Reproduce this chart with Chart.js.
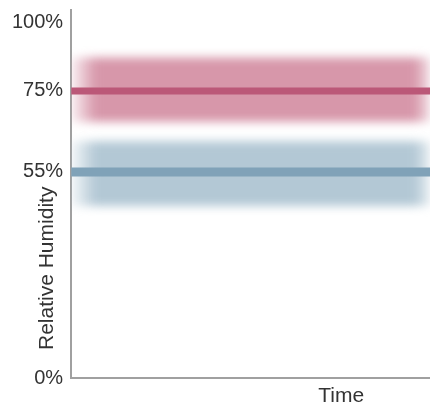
<!DOCTYPE html>
<html>
<head>
<meta charset="utf-8">
<script src="https://cdn.jsdelivr.net/npm/chart.js@4.4.1/dist/chart.umd.min.js"></script>
<style>
    html, body { margin: 0; padding: 0; background: #fff; }
    #wrap { width: 430px; height: 404px; position: relative; }
</style>
</head>
<body>
<div id="wrap"><canvas id="humidityChart"></canvas></div>
<script>
// chart data
const periodLabels = ['Time'];
const timeSpan = [0, 1];
const upperLevel = [75, 75];
const upperRange = [67.5, 87];
const lowerLevel = [55, 55];
const lowerRange = [46, 62.5];
const yTickValues = [0, 55, 75, 100];

// the y axis in the picture is not evenly spaced, so map values piecewise
const STOP_VALUES = [0, 55, 75, 100, 104];
const STOP_FRACTIONS = [0, 0.56, 0.78, 0.967, 1];

function interp(v, from, to) {
    if (v <= from[0]) return to[0];
    for (let i = 1; i < from.length; i++) {
        if (v <= from[i]) {
            const t = (v - from[i - 1]) / (from[i] - from[i - 1]);
            return to[i - 1] + t * (to[i] - to[i - 1]);
        }
    }
    return to[to.length - 1];
}

class HumidityScale extends Chart.LinearScale {
    getPixelForValue(value) {
        if (value === null || value === undefined) return NaN;
        return this.getPixelForDecimal(interp(value, STOP_VALUES, STOP_FRACTIONS));
    }
    getValueForPixel(pixel) {
        return interp(this.getDecimalForPixel(pixel), STOP_FRACTIONS, STOP_VALUES);
    }
}
HumidityScale.id = 'humidity';
HumidityScale.defaults = Chart.LinearScale.defaults;
Chart.register(HumidityScale);

const FONT = '"Liberation Sans", Arial, sans-serif';
const TEXT_COLOR = '#333333';
const AXIS_COLOR = '#a0a0a0';

// horizontal fade for the bands (rgb triplet, fades at both ends)
function bandFill(rgb) {
    return function(context) {
        const area = context.chart.chartArea;
        const solid = 'rgb(' + rgb + ')';
        if (!area) return solid;
        const g = context.chart.ctx.createLinearGradient(area.left, 0, area.right, 0);
        g.addColorStop(0, 'rgba(' + rgb + ',0.15)');
        g.addColorStop(0.07, solid);
        g.addColorStop(0.955, solid);
        g.addColorStop(1, 'rgba(' + rgb + ',0.3)');
        return g;
    };
}

// blur the band datasets only
const bandBlur = {
    id: 'bandBlur',
    beforeDatasetDraw(chart, args) {
        if (chart.data.datasets[args.index].blur) {
            chart.ctx.save();
            chart.ctx.filter = 'blur(5px)';
        }
    },
    afterDatasetDraw(chart, args) {
        if (chart.data.datasets[args.index].blur) {
            chart.ctx.restore();
        }
    }
};

// axis titles sit off-centre in the picture, so draw them by hand
const axisTitles = {
    id: 'axisTitles',
    afterDraw(chart) {
        const { ctx, chartArea } = chart;
        ctx.save();
        ctx.fillStyle = TEXT_COLOR;
        ctx.font = '21px ' + FONT;
        ctx.textBaseline = 'alphabetic';
        ctx.textAlign = 'left';
        ctx.translate(chartArea.left - 18, chartArea.bottom - 28);
        ctx.rotate(-Math.PI / 2);
        ctx.fillText('Relative Humidity', 0, 0);
        ctx.restore();

        ctx.save();
        ctx.fillStyle = TEXT_COLOR;
        ctx.font = '21px ' + FONT;
        ctx.textBaseline = 'alphabetic';
        ctx.textAlign = 'center';
        ctx.fillText('Time', chartArea.left + 270, chartArea.bottom + 24);
        ctx.restore();
    }
};

const ctx = document.getElementById('humidityChart').getContext('2d');
new Chart(ctx, {
    type: 'bar',
    data: {
        labels: periodLabels,
        datasets: [{
            type: 'line',
            xAxisID: 'x2',
            data: timeSpan.map((x, i) => ({ x: x, y: upperLevel[i] })),
            borderColor: '#bb5878',
            borderWidth: 7,
            pointRadius: 0,
            fill: false
        }, {
            type: 'line',
            xAxisID: 'x2',
            data: timeSpan.map((x, i) => ({ x: x, y: lowerLevel[i] })),
            borderColor: '#80a2b8',
            borderWidth: 9,
            pointRadius: 0,
            fill: false
        }, {
            type: 'bar',
            xAxisID: 'x',
            data: [upperRange],
            backgroundColor: bandFill('215,151,170'),
            borderWidth: 0,
            barPercentage: 1,
            categoryPercentage: 1,
            grouped: false,
            blur: true
        }, {
            type: 'bar',
            xAxisID: 'x',
            data: [lowerRange],
            backgroundColor: bandFill('179,200,213'),
            borderWidth: 0,
            barPercentage: 1,
            categoryPercentage: 1,
            grouped: false,
            blur: true
        }]
    },
    options: {
        responsive: true,
        maintainAspectRatio: false,
        animation: false,
        layout: {
            padding: { left: 4, top: 10, right: 0, bottom: 26 }
        },
        plugins: {
            legend: { display: false },
            tooltip: { enabled: false }
        },
        scales: {
            x: {
                type: 'category',
                offset: true,
                grid: { display: false, drawTicks: false },
                ticks: { display: false },
                border: { display: true, color: AXIS_COLOR, width: 2 }
            },
            x2: {
                type: 'linear',
                min: 0,
                max: 1,
                offset: false,
                display: false
            },
            y: {
                type: 'humidity',
                min: 0,
                max: 104,
                afterBuildTicks: function(scale) {
                    scale.ticks = yTickValues.map(v => ({ value: v }));
                },
                afterFit: function(scale) {
                    scale.paddingTop = 0;
                    scale.paddingBottom = 0;
                },
                grid: { display: false, drawTicks: false },
                border: { display: true, color: AXIS_COLOR, width: 2 },
                ticks: {
                    padding: 8,
                    color: TEXT_COLOR,
                    font: { family: FONT, size: 20 },
                    callback: function(value) {
                        return value + '%';
                    }
                }
            }
        }
    },
    plugins: [bandBlur, axisTitles]
});
</script>
</body>
</html>
